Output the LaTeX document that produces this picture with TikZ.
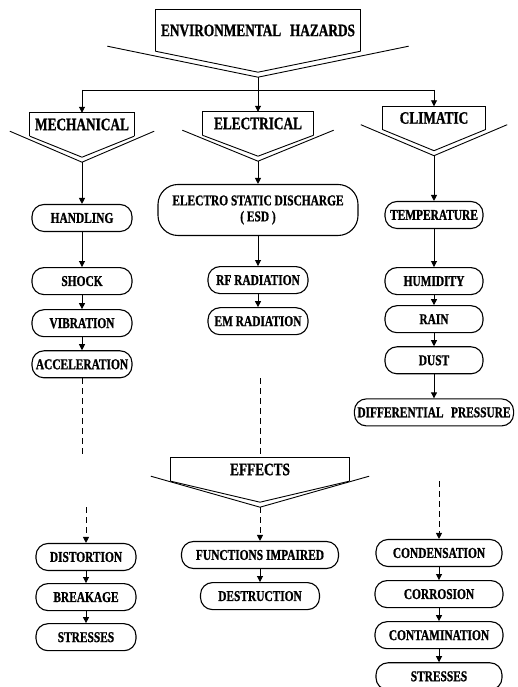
\documentclass[tikz,border=0pt]{standalone}
\usepackage{fontspec}
\setmainfont{Liberation Serif}[FakeStretch=0.76,FakeBold=1]
\usepackage{tikz}
\usetikzlibrary{positioning,calc,arrows.meta}
\newcommand{\hazbig}{\fontsize{17.5}{19}\selectfont\bfseries}
\newcommand{\hazsmall}{\fontsize{15}{16}\selectfont\bfseries}
% box with the double chevron under it; #2 = how far the arms reach past the box
\newcommand{\funnel}[2]{%
  \draw[funnelline] (#1.south west) |- (#1.north east) -- (#1.south east);
  \coordinate (#1-tip) at ($(#1.south)+(0,-26pt)$);
  \draw[funnelline] ($(#1.south west)+(-#2,5pt)$) -- (#1-tip) -- ($(#1.south east)+(#2,5pt)$);
  \draw[funnelline] (#1.south west) -- ($(#1.south)+(0,-21pt)$) -- (#1.south east);
}

\begin{document}
\begin{tikzpicture}[x=1pt,y=1pt,
  hazard/.style={draw,line width=1.1pt,rounded corners=12pt,minimum height=27pt,minimum width=100pt,inner sep=3pt,font=\hazsmall},
  heading/.style={minimum height=23pt,inner sep=0pt,font=\hazbig},
  funnelline/.style={line width=0.9pt},
  flow/.style={line width=0.9pt,-{Triangle[length=6pt,width=6pt]}},
  gapline/.style={line width=0.9pt,dash pattern=on 6pt off 4pt}]
\useasboundingbox (0,0) rectangle (517,687);

% headings
\node[heading,minimum width=205pt,minimum height=41pt] (env) at (258,656.5) {ENVIRONMENTAL\enspace HAZARDS};
\funnel{env}{48pt}
\node[heading,minimum width=104pt] (mech) at (82,562.5) {MECHANICAL};
\node[heading,minimum width=111pt] (elec) at (258,563.5) {ELECTRICAL};
\node[heading,minimum width=102pt] (clim) at (434,569) {CLIMATIC};
\funnel{mech}{20pt}
\funnel{elec}{20pt}
\funnel{clim}{22pt}
\node[heading,minimum width=178pt] (effects) at (260,217.5) {EFFECTS};
\funnel{effects}{20pt}

\coordinate (bus) at (258,597);
\draw[flow] (env-tip) -- (elec);
\draw[funnelline] (bus -| mech.north) -- (bus -| clim.north);
\draw[flow] (bus -| mech.north) -- (mech);
\draw[flow] (bus -| clim.north) -- (clim);

% hazards
\node[hazard] (handling) at (82,469) {HANDLING};
\node[hazard,below=35pt of handling] (shock) {SHOCK};
\node[hazard,below=14pt of shock] (vibration) {VIBRATION};
\node[hazard,below=13pt of vibration] (accel) {ACCELERATION};

\node[hazard,minimum width=200pt,minimum height=51pt,rounded corners=20pt,align=center] (esd) at (258,477) {ELECTRO STATIC DISCHARGE\\( ESD )};
\node[hazard,below=30pt of esd] (rfrad) {RF RADIATION};
\node[hazard,below=13pt of rfrad] (emrad) {EM RADIATION};

\node[hazard,minimum width=98pt] (temp) at (434,472) {TEMPERATURE};
\node[hazard,minimum width=98pt,below=38pt of temp] (humid) {HUMIDITY};
\node[hazard,minimum width=98pt,below=10pt of humid] (rain) {RAIN};
\node[hazard,minimum width=98pt,below=13pt of rain] (dust) {DUST};
\node[hazard,minimum width=158pt,below=24pt of dust] (diffpress) {DIFFERENTIAL\enspace PRESSURE};

% effects
\node[hazard] (distort) at (86,130) {DISTORTION};
\node[hazard,below=12pt of distort] (breakage) {BREAKAGE};
\node[hazard,below=12pt of breakage] (stress1) {STRESSES};

\node[hazard,minimum width=157pt] (funcimp) at (260,132) {FUNCTIONS IMPAIRED};
\node[hazard,minimum width=119pt,below=13pt of funcimp] (destruct) {DESTRUCTION};

\node[hazard,minimum width=126pt] (condens) at (439,134) {CONDENSATION};
\node[hazard,minimum width=128pt,below=13pt of condens] (corros) {CORROSION};
\node[hazard,minimum width=128pt,below=13pt of corros] (contam) {CONTAMINATION};
\node[hazard,minimum width=126pt,below=13pt of contam] (stress2) {STRESSES};

\draw[flow] (mech-tip) -- (handling);
\draw[flow] (handling) -- (shock);
\draw[flow] (shock) -- (vibration);
\draw[flow] (vibration) -- (accel);
\draw[flow] (elec-tip) -- (esd);
\draw[flow] (esd) -- (rfrad);
\draw[flow] (rfrad) -- (emrad);
\draw[flow] (clim-tip) -- (temp);
\draw[flow] (temp) -- (humid);
\draw[flow] (humid) -- (rain);
\draw[flow] (rain) -- (dust);
\draw[flow] (dust) -- (diffpress);

\draw[gapline] (accel) -- (accel |- effects.north);
\draw[gapline] (effects.north |- accel.south) -- (effects.north);
\draw[gapline,flow] (distort.north |- effects-tip) -- (distort);
\draw[gapline,flow] (effects-tip) -- (funcimp);
\draw[gapline,flow] (condens.north |- effects.south) -- (condens);

\draw[flow] (distort) -- (breakage);
\draw[flow] (breakage) -- (stress1);
\draw[flow] (funcimp) -- (destruct);
\draw[flow] (condens) -- (corros);
\draw[flow] (corros) -- (contam);
\draw[flow] (contam) -- (stress2);
\end{tikzpicture}
\end{document}
